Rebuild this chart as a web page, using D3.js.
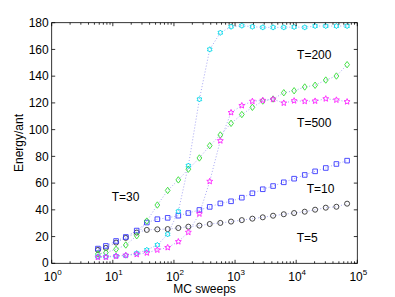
<!DOCTYPE html>
<html>
<head>
<meta charset="utf-8">
<script src="https://cdn.jsdelivr.net/npm/d3@7"></script>
<style>
  body { margin: 0; background: #fff; }
  svg { display: block; font-family: "Liberation Sans", Arial, sans-serif; }
</style>
</head>
<body>
<div id="chart"></div>
<script>
// -- data (MC sweeps are shared by every series)
var sweeps = [5.7, 7.7, 11.3, 16.3, 24.6, 36, 53.5, 79, 118, 172, 261, 385, 574, 860,
  1290, 1920, 2840, 4190, 6270, 9250, 13800, 20400, 30500, 45500, 68100];

var energyT5 = [10, 11.5, 15.5, 19, 23, 25, 25.4, 25.6, 26.4, 27.4, 28.2, 29.4, 30.2, 31.2,
  32.3, 33.4, 34.4, 35.6, 36.7, 37.6, 38.6, 40.1, 41.6, 42.3, 44.6];
var energyT10 = [11, 13, 16.7, 19.7, 24.5, 30.5, 33, 34, 35.6, 37.6, 39.9, 42.2, 44.8, 46.4,
  49.1, 52.4, 55.4, 57.8, 60.6, 63.3, 66.1, 68.8, 71.3, 74.3, 76.8];
var energyT30 = [7, 8, 10.5, 13.7, 20.6, 31.6, 43.6, 54.5, 62.4, 70.4, 78.8, 88, 96, 104.7,
  111.3, 116.7, 121.4, 122.9, 127.6, 129.1, 131.9, 133.2, 137.1, 140.1, 148.6];
var energyT200 = [5, 5, 5.5, 5.8, 7.5, 10, 13.7, 21.7, 38.8, 73, 122.7, 160, 172.5, 177,
  177.8, 177, 176.5, 176.5, 176.5, 176.8, 176.5, 177.5, 177.5, 177.5, 177.5];
var energyT500 = [4.5, 4.6, 5.3, 6, 6.7, 7.8, 10, 11.8, 16.2, 23.2, 37, 61.3, 91.7, 112.8,
  118, 121.2, 121.9, 122.7, 119.9, 121.6, 121.2, 121.4, 123.1, 122.2, 120.9];

var yTicks = [0, 20, 40, 60, 80, 100, 120, 140, 160, 180];
var xDecades = [0, 1, 2, 3, 4, 5];

// annotation text and where it sits in data space
var labelText = ["T=200", "T=500", "T=30", "T=10", "T=5"];
var labelSweeps = [10350, 10350, 9.6, 14900, 10230];
var labelEnergy = [155.8, 105, 49.8, 55.4, 19.2];

// -- layout
var W = 395, H = 297;
var margin = {top: 22.7, right: 37.7, bottom: 33.7, left: 51.7};
var width = W - margin.left - margin.right;
var height = H - margin.top - margin.bottom;

var svg = d3.select("#chart").append("svg")
  .attr("width", W)
  .attr("height", H);

var g = svg.append("g")
  .attr("transform", "translate(" + margin.left + "," + margin.top + ")");

var x = d3.scaleLog().domain([1, 1e5]).range([0, width]);
var y = d3.scaleLinear().domain([0, 180]).range([height, 0]);

// -- series styles
var series = [
  {values: energyT5, color: "#333333", shape: "circle"},
  {values: energyT10, color: "#3a3aff", shape: "square"},
  {values: energyT30, color: "#33dd33", shape: "diamond"},
  {values: energyT200, color: "#00d8e8", shape: "hexagram"},
  {values: energyT500, color: "#ff22ff", shape: "pentagram"}
];

function starPath(points, rOut, rIn) {
  var p = [];
  for (var k = 0; k < points * 2; k++) {
    var r = k % 2 === 0 ? rOut : rIn;
    var a = -Math.PI / 2 + k * Math.PI / points;
    p.push([r * Math.cos(a), r * Math.sin(a)]);
  }
  return "M" + p.map(function (d) { return d[0].toFixed(2) + "," + d[1].toFixed(2); }).join("L") + "Z";
}

var shapePaths = {
  circle: d3.symbol().type(d3.symbolCircle).size(20)(),
  square: "M-2.3,-2.3L2.3,-2.3L2.3,2.3L-2.3,2.3Z",
  diamond: "M0,-3.2L2.4,0L0,3.2L-2.4,0Z",
  hexagram: starPath(6, 2.7, 1.7),
  pentagram: starPath(5, 3.1, 1.4)
};

var line = d3.line()
  .x(function (d, i) { return x(sweeps[i]); })
  .y(function (d) { return y(d); });

// dotted connectors
series.forEach(function (s) {
  g.append("path")
    .attr("d", line(s.values))
    .attr("fill", "none")
    .attr("stroke", "#a8a8f4")
    .attr("stroke-width", 1)
    .attr("stroke-dasharray", "1,2");
});

// markers
series.forEach(function (s) {
  g.append("g").selectAll("path")
    .data(s.values)
    .enter().append("path")
    .attr("d", shapePaths[s.shape])
    .attr("transform", function (d, i) { return "translate(" + x(sweeps[i]) + "," + y(d) + ")"; })
    .attr("fill", "none")
    .attr("stroke", s.color)
    .attr("stroke-width", 0.9);
});

// -- box and inward ticks (matlab style)
var axisG = g.append("g").attr("stroke", "#000").attr("stroke-width", 0.8);

axisG.append("rect")
  .attr("x", 0).attr("y", 0)
  .attr("width", width).attr("height", height)
  .attr("fill", "none");

yTicks.forEach(function (t) {
  axisG.append("line").attr("x1", 0).attr("x2", 3.5).attr("y1", y(t)).attr("y2", y(t));
  axisG.append("line").attr("x1", width).attr("x2", width - 3.5).attr("y1", y(t)).attr("y2", y(t));
});

xDecades.forEach(function (e) {
  var base = Math.pow(10, e);
  axisG.append("line").attr("x1", x(base)).attr("x2", x(base)).attr("y1", height).attr("y2", height - 3.5);
  axisG.append("line").attr("x1", x(base)).attr("x2", x(base)).attr("y1", 0).attr("y2", 3.5);
  if (e < 5) {
    for (var m = 2; m <= 9; m++) {
      var v = base * m;
      axisG.append("line").attr("x1", x(v)).attr("x2", x(v)).attr("y1", height).attr("y2", height - 2);
      axisG.append("line").attr("x1", x(v)).attr("x2", x(v)).attr("y1", 0).attr("y2", 2);
    }
  }
});

// -- tick labels
g.append("g").selectAll("text")
  .data(yTicks)
  .enter().append("text")
  .attr("x", -3)
  .attr("y", function (d) { return y(d); })
  .attr("dy", "0.35em")
  .attr("text-anchor", "end")
  .attr("font-size", 12)
  .text(function (d) { return d; });

var xl = g.append("g").selectAll("text")
  .data(xDecades)
  .enter().append("text")
  .attr("x", function (d) { return x(Math.pow(10, d)) + 1; })
  .attr("y", height + 17.5)
  .attr("text-anchor", "middle")
  .attr("font-size", 12);
xl.append("tspan").text("10");
xl.append("tspan").attr("dy", -6).attr("font-size", 8).text(function (d) { return d; });

// -- axis titles
g.append("text")
  .attr("x", width / 2)
  .attr("y", height + 30)
  .attr("text-anchor", "middle")
  .attr("font-size", 12)
  .text("MC sweeps");

g.append("text")
  .attr("transform", "translate(" + (-29) + "," + (height / 2) + ") rotate(-90)")
  .attr("text-anchor", "middle")
  .attr("font-size", 12)
  .text("Energy/ant");

// -- temperature annotations
g.append("g").selectAll("text")
  .data(labelText)
  .enter().append("text")
  .attr("x", function (d, i) { return x(labelSweeps[i]); })
  .attr("y", function (d, i) { return y(labelEnergy[i]); })
  .attr("dy", "0.35em")
  .attr("font-size", 12)
  .text(function (d) { return d; });
</script>
</body>
</html>
